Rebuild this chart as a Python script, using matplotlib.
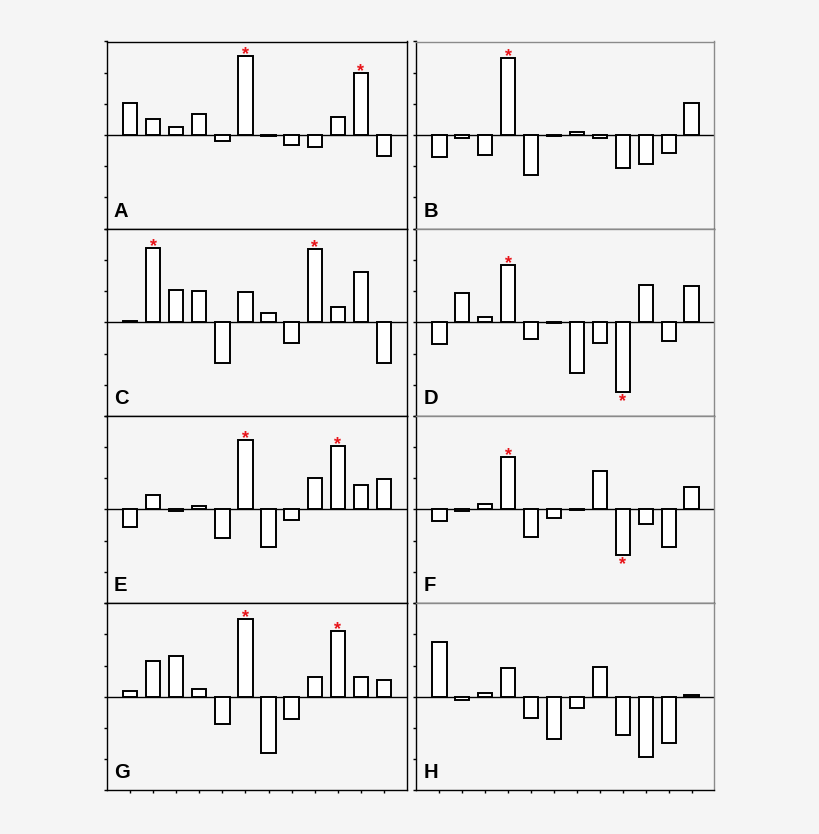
import matplotlib
matplotlib.use("Agg")
import matplotlib.pyplot as plt
import numpy as np

plt.rcParams['font.family'] = ['Liberation Sans', 'DejaVu Sans']

categories = list(range(1, 13))
panel_labels = ["A", "B", "C", "D", "E", "F", "G", "H"]

vals_A = [1.02, 0.52, 0.27, 0.69, -0.20, 2.55, -0.03, -0.33, -0.37, 0.59, 1.99, -0.67]
vals_B = [-0.70, -0.09, -0.65, 2.48, -1.29, -0.02, 0.11, -0.09, -1.05, -0.94, -0.58, 1.04]
vals_C = [0.03, 2.39, 1.04, 0.99, -1.30, 0.97, 0.29, -0.67, 2.36, 0.49, 1.61, -1.30]
vals_D = [-0.71, 0.95, 0.18, 1.83, -0.53, -0.02, -1.64, -0.65, -2.22, 1.19, -0.59, 1.15]
vals_E = [-0.57, 0.45, -0.05, 0.10, -0.91, 2.22, -1.21, -0.33, 1.01, 2.02, 0.77, 0.99]
vals_F = [-0.36, -0.04, 0.19, 1.69, -0.87, -0.28, -0.01, 1.22, -1.45, -0.48, -1.21, 0.71]
vals_G = [0.17, 1.16, 1.32, 0.24, -0.88, 2.48, -1.79, -0.72, 0.63, 2.12, 0.63, 0.52]
vals_H = [1.74, -0.10, 0.12, 0.91, -0.68, -1.34, -0.35, 0.94, -1.22, -1.94, -1.47, 0.04]

# significant bars (1-based category index)
stars_A = [6, 11]
stars_B = [4]
stars_C = [2, 9]
stars_D = [4, 9]
stars_E = [6, 10]
stars_F = [4, 9]
stars_G = [6, 10]
stars_H = []

all_vals = [vals_A, vals_B, vals_C, vals_D, vals_E, vals_F, vals_G, vals_H]
all_stars = [stars_A, stars_B, stars_C, stars_D, stars_E, stars_F, stars_G, stars_H]

W, H = 820, 834
bg = "#f5f5f5"
fig = plt.figure(figsize=(W / 100, H / 100), dpi=100, facecolor=bg)

col_left = [107, 416.5]
col_w = [300, 298]
top_px = 41.5
row_h = 187.2

for i in range(8):
    r, c = divmod(i, 2)
    x0 = col_left[c]
    y0 = top_px + r * row_h
    ax = fig.add_axes([x0 / W, 1 - (y0 + row_h) / H, col_w[c] / W, row_h / H])
    ax.set_facecolor(bg)
    vals = all_vals[i]
    ax.bar(categories, vals, width=0.62, color="white", edgecolor="black",
           linewidth=1.4, zorder=3)
    ax.axhline(0, color="black", lw=1.0, zorder=2)
    ax.set_xlim(0, 13)
    ax.set_ylim(-3, 3)
    ax.set_xticks(categories)
    ax.set_yticks(np.arange(-3, 4, 1))
    ax.set_xticklabels([])
    ax.set_yticklabels([])
    ax.tick_params(direction="out", length=2.5, width=1.0, color="black")
    for s in ax.spines.values():
        s.set_linewidth(1.0)
        s.set_color("black")
    if c == 1:
        ax.spines["top"].set_color("#8a8a8a")
        ax.spines["right"].set_color("#8a8a8a")
    for k in all_stars[i]:
        v = vals[k - 1]
        off = 1 if v >= 0 else -7
        ax.annotate("*", xy=(k, v), xytext=(0, off), textcoords="offset points",
                    ha="center", va="center", color="#e8141a", fontsize=13,
                    fontweight="bold", zorder=5, annotation_clip=False)
    ax.text(7 / col_w[c], 12 / row_h, panel_labels[i], transform=ax.transAxes,
            fontsize=14.5, fontweight="bold", ha="left", va="baseline")

fig.savefig("out.png", dpi=100, facecolor=bg)
